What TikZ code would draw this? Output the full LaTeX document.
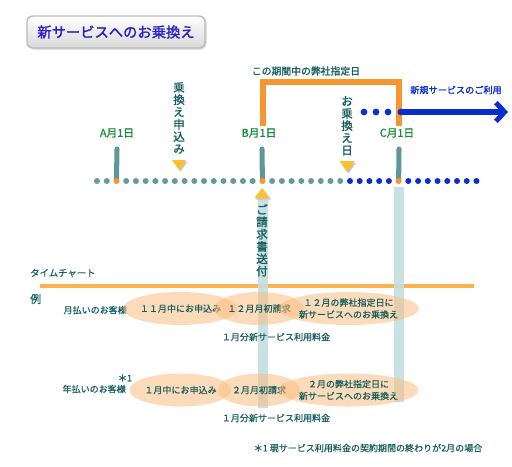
\documentclass[tikz,border=0pt]{standalone}
\usepackage{fontspec}
\setmainfont{Noto Sans CJK JP}
\newfontfamily\jpbold[FakeBold=1.5]{Noto Sans CJK JP}
\newfontfamily\jpmed[FakeBold=0.7]{Noto Sans CJK JP}
\usepackage{tikz}
\usetikzlibrary{shapes,arrows.meta,positioning,calc,shadows}
\definecolor{txtteal}{RGB}{25,95,95}
\definecolor{monthgreen}{RGB}{25,140,60}
\definecolor{barteal}{RGB}{95,150,150}
\definecolor{dotteal}{RGB}{100,155,150}
\definecolor{markorange}{RGB}{247,150,46}
\definecolor{newblue}{RGB}{10,45,205}
\definecolor{bandcol}{RGB}{195,222,222}
\definecolor{peach}{RGB}{250,190,130}
\definecolor{trifill}{RGB}{255,192,48}
\definecolor{titleblue}{RGB}{40,30,200}
\definecolor{lineorange}{RGB}{250,178,80}
\tikzstyle{lbl} = [inner sep=0, text=txtteal, font=\jpmed\fontsize{7.7}{10.2}\selectfont]
\tikzstyle{month} = [inner sep=0, text=monthgreen, font=\jpbold\fontsize{9.2}{11}\selectfont]
\tikzstyle{vtext} = [inner sep=0, text=txtteal, align=center, font=\jpbold\fontsize{9.8}{10.5}\selectfont]
\tikzstyle{plan} = [ellipse, fill=peach, fill opacity=0.55, text opacity=1, minimum height=0.99cm, inner sep=0, text=txtteal, align=center, font=\jpmed\fontsize{7.7}{10.2}\selectfont]
\tikzstyle{titlebox} = [rounded corners=5pt, draw=gray!55, line width=1.2pt, top color=white, bottom color=gray!30, minimum width=5.34cm, minimum height=0.96cm, drop shadow={shadow xshift=1.5pt, shadow yshift=-1.5pt, fill=gray!45}, text=titleblue, font=\jpbold\fontsize{12.2}{14}\selectfont]
\tikzstyle{bar} = [barteal, line width=4.3pt, line cap=round]
\tikzstyle{tshadow} = [fill=gray!45]

\begin{document}
\begin{tikzpicture}[x=0.03cm, y=-0.03cm]
    \useasboundingbox (0,0) rectangle (512,466);
    % Title
    \node [titlebox] (title) at (116,32) {新サービスへのお乗換え};

    % Period bracket
    \coordinate (pbl) at (263,126);
    \coordinate (ptl) at (263,82);
    \coordinate (ptr) at (399,82);
    \coordinate (pbr) at (399,126);
    \draw [markorange, line width=4.7pt] (pbl) -- (ptl) -- (ptr) -- (pbr);
    \node [lbl, font=\jpbold\fontsize{8.4}{10}\selectfont] (period) at (306,71) {この期間中の弊社指定日};

    % New service
    \foreach \x in {364,376,388} \fill [newblue] (\x,112) circle (3.4);
    \coordinate (svcs) at (401,112);
    \coordinate (svce) at (508,112);
    \fill [newblue] (svcs) circle (3.4);
    \draw [newblue, line width=4.3pt, -{Straight Barb[length=2.6mm,width=5.6mm]}] (svcs) -- (svce);
    \node [lbl, text=newblue, font=\jpbold\fontsize{7.8}{10}\selectfont] (newsvc) at (456,90) {新規サービスのご利用};

    % Months
    \node [month] (ma) at (117,133) {A月1日};
    \node [month] (mb) at (259,133) {B月1日};
    \node [month] (mc) at (397,133) {C月1日};

    % Time chart line and bands
    \coordinate (ls) at (40,286);
    \coordinate (le) at (474,286);
    \draw [lineorange, line width=3.3pt] (ls) -- (le);
    \fill [bandcol, opacity=0.9] (258,195) rectangle (268,408);
    \fill [bandcol, opacity=0.9] (394,187) rectangle (404,402);

    % Dots
    \foreach \k in {0,...,39} \coordinate (d\k) at (97+9.73*\k,181);
    \draw [bar] (117,149) -- (d2);
    \draw [bar] (262,149) -- (d17);
    \draw [bar] (399,149) -- (d31);
    \foreach \k in {0,...,39} {
        \ifnum\k<26 \def\dc{dotteal}\else\def\dc{newblue}\fi
        \ifnum\k=2 \def\dc{markorange}\fi
        \ifnum\k=17 \def\dc{markorange}\fi
        \ifnum\k=31 \def\dc{markorange}\fi
        \fill [\dc] (d\k) circle (3);
    }

    % Markers
    \coordinate (ta) at (179,170);
    \fill [tshadow] ($(ta)+(1.5,1.5)$) -- +(-7,-10) -- +(7,-10) -- cycle;
    \fill [trifill] (ta) -- +(-7,-10) -- +(7,-10) -- cycle;
    \coordinate (tb) at (262,188);
    \fill [tshadow] ($(tb)+(1.5,1.5)$) -- +(-7.5,10) -- +(7.5,10) -- cycle;
    \fill [trifill] (tb) -- +(-7.5,10) -- +(7.5,10) -- cycle;
    \coordinate (tc) at (347,172);
    \fill [tshadow] ($(tc)+(1.5,1.5)$) -- +(-7.5,-11) -- +(7.5,-11) -- cycle;
    \fill [trifill] (tc) -- +(-7.5,-11) -- +(7.5,-11) -- cycle;
    \node [vtext, anchor=north] (apply) at (179,82) {乗\\換\\え\\申\\込\\み};
    \node [vtext, anchor=north] (switch) at (347,96) {お\\乗\\換\\え\\日};
    \node [vtext, anchor=north] (bill) at (262,204) {ご\\請\\求\\書\\送\\付};

    % Time chart
    \node [lbl, anchor=west, font=\jpmed\fontsize{8}{10}\selectfont] (chart) at (30,273) {タイムチャート};
    \node [lbl, anchor=west, font=\jpmed\fontsize{9.4}{10}\selectfont] (ex) at (30,299) {例};

    % Monthly
    \node [lbl, anchor=east] (monthly) at (127,310) {月払いのお客様};
    \node [plan, minimum width=2.55cm] (m1) at (180.5,308.5) {１１月中にお申込み};
    \node [plan, minimum width=2.46cm] (m2) at (259,308.5) {１２月月初請求};
    \node [plan, minimum width=2.91cm] (m3) at (348.5,308.5) {１２月の弊社指定日に\\新サービスへのお乗換え};
    \node [lbl] (m4) at (276,337) {１月分新サービス利用料金};

    % Yearly
    \node [lbl, anchor=east] (yearly) at (126,389) {年払いのお客様};
    \node [lbl, font=\jpbold\fontsize{7.7}{10}\selectfont] (ynote) at (125,378) {＊1};
    \node [plan, minimum width=2.55cm] (y1) at (180.5,390) {１月中にお申込み};
    \node [plan, minimum width=2.46cm] (y2) at (259,390) {２月月初請求};
    \node [plan, minimum width=2.91cm] (y3) at (348.5,390) {２月の弊社指定日に\\新サービスへのお乗換え};
    \node [lbl] (y4) at (276,418) {１月分新サービス利用料金};

    % Note
    \node [lbl] (note) at (368,448) {＊1 現サービス利用料金の契約期間の終わりが2月の場合};
\end{tikzpicture}
\end{document}
